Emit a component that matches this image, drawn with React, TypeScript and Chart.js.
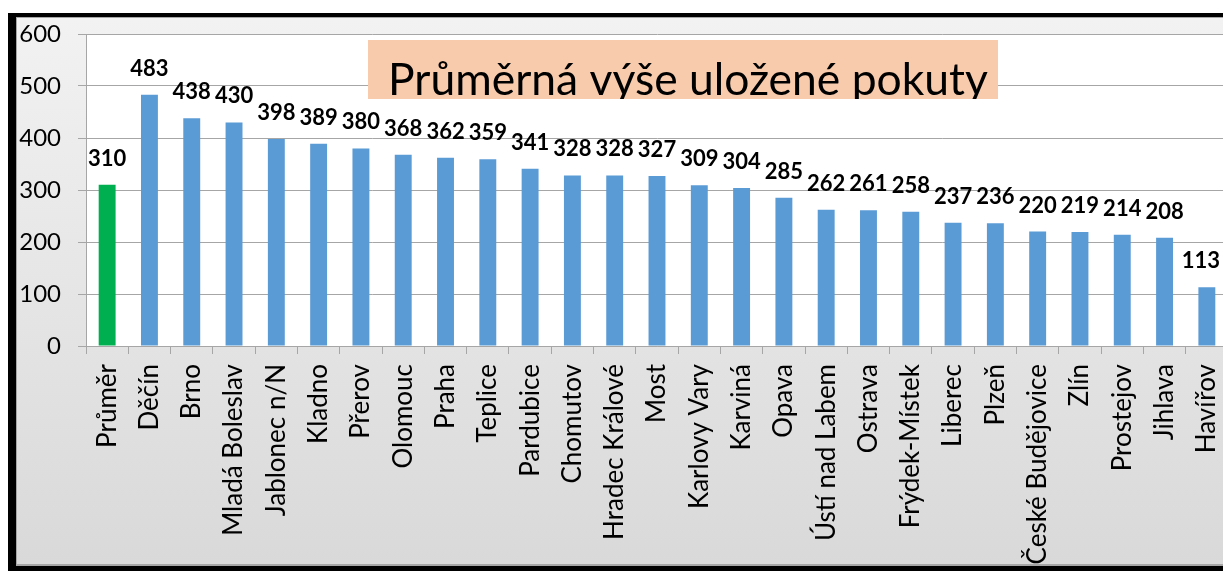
import React, { useEffect, useRef } from "react";
import { Chart, registerables } from "chart.js";

Chart.register(...registerables);

const categories = [
  "Průměr", "Děčín", "Brno", "Mladá Boleslav", "Jablonec n/N", "Kladno", "Přerov",
  "Olomouc", "Praha", "Teplice", "Pardubice", "Chomutov", "Hradec Králové", "Most",
  "Karlovy Vary", "Karviná", "Opava", "Ústí nad Labem", "Ostrava", "Frýdek-Místek",
  "Liberec", "Plzeň", "České Budějovice", "Zlín", "Prostejov", "Jihlava", "Havířov",
];
const values = [
  310, 483, 438, 430, 398, 389, 380, 368, 362, 359, 341, 328, 328, 327, 309, 304,
  285, 262, 261, 258, 237, 236, 220, 219, 214, 208, 113,
];
const yTicks = [0, 100, 200, 300, 400, 500, 600];
const titleText = "Průměrná výše uložené pokuty";

const FONT = "Lato, 'Open Sans', sans-serif";
const GRID = "#a6a6a6";

export default function App() {
  const ref = useRef<HTMLCanvasElement | null>(null);

  useEffect(() => {
    const canvas = ref.current!;
    const colors = categories.map((c, i) => (i === 0 ? "#00b050" : "#5b9bd5"));

    const bgPlugin = {
      id: "plotBg",
      beforeDraw(chart: any) {
        const { ctx, chartArea: a } = chart;
        ctx.save();
        ctx.fillStyle = "#ffffff";
        ctx.fillRect(a.left, a.top, a.right - a.left, a.bottom - a.top);
        ctx.restore();
      },
    };

    const labelPlugin = {
      id: "valueLabels",
      afterDatasetsDraw(chart: any) {
        const { ctx } = chart;
        const meta = chart.getDatasetMeta(0);
        ctx.save();
        ctx.font = `bold 22px ${FONT}`;
        ctx.fillStyle = "#000";
        ctx.textAlign = "center";
        ctx.textBaseline = "alphabetic";
        meta.data.forEach((bar: any, i: number) => {
          let x = bar.x;
          const txt = String(values[i]);
          const w = ctx.measureText(txt).width;
          if (x + w / 2 > chart.width - 12) x = chart.width - 12 - w / 2;
          ctx.fillText(txt, x, bar.y - 19);
        });
        ctx.restore();
      },
    };

    const titlePlugin = {
      id: "boxTitle",
      afterDraw(chart: any) {
        const { ctx } = chart;
        const bx = 351, by = 22, bw = 630, bh = 59;
        ctx.save();
        ctx.fillStyle = "#f8cbad";
        ctx.fillRect(bx, by, bw, bh);
        ctx.beginPath();
        ctx.rect(bx, by, bw, bh);
        ctx.clip();
        let size = 42;
        ctx.font = `${size}px ${FONT}`;
        const m = ctx.measureText(titleText).width;
        size = (42 * 600) / m;
        ctx.font = `${size}px ${FONT}`;
        ctx.fillStyle = "#000";
        ctx.textAlign = "left";
        ctx.textBaseline = "alphabetic";
        ctx.fillText(titleText, bx + 20, by + 55);
        ctx.restore();
      },
    };

    const chart = new Chart(canvas, {
      type: "bar",
      data: {
        labels: categories,
        datasets: [
          {
            data: values,
            backgroundColor: colors,
            borderWidth: 0,
            barPercentage: 0.8,
            categoryPercentage: 0.5,
          },
        ],
      },
      options: {
        responsive: false,
        animation: false,
        devicePixelRatio: 1,
        layout: { padding: { top: 16, right: 4, left: 0, bottom: 0 } },
        plugins: {
          legend: { display: false },
          tooltip: { enabled: false },
          title: { display: false },
        },
        scales: {
          x: {
            grid: {
              offset: true,
              drawOnChartArea: false,
              drawTicks: true,
              tickLength: 8,
              color: GRID,
            },
            border: { color: GRID },
            ticks: {
              autoSkip: false,
              minRotation: 90,
              maxRotation: 90,
              padding: 10,
              color: "#000",
              font: { family: FONT, size: 26 },
            },
            afterFit(scale: any) {
              scale.height = 218;
              scale.paddingLeft = 0;
              scale.paddingRight = 0;
            },
          },
          y: {
            min: yTicks[0],
            max: yTicks[yTicks.length - 1],
            afterBuildTicks(scale: any) {
              scale.ticks = yTicks.map((v) => ({ value: v }));
            },
            grid: { color: GRID, tickLength: 8 },
            border: { color: GRID },
            ticks: {
              padding: 17,
              color: "#000",
              font: { family: FONT, size: 24 },
            },
            afterFit(scale: any) {
              scale.width = 69;
              scale.paddingTop = 0;
              scale.paddingBottom = 0;
            },
          },
        },
      },
      plugins: [bgPlugin, labelPlugin, titlePlugin],
    });
    return () => chart.destroy();
  }, []);

  return (
    <div
      style={{
        position: "fixed",
        left: 8,
        top: 13,
        width: 1215,
        height: 558,
        boxSizing: "border-box",
        borderLeft: "8px solid #000",
        borderTop: "4px solid #000",
        borderBottom: "5px solid #000",
        overflow: "hidden",
      }}
    >
      <div
        style={{
          position: "relative",
          height: 546,
          borderLeft: "1px solid #a6a6a6",
          borderTop: "1px solid #a6a6a6",
          borderBottom: "2px solid #a6a6a6",
          background: "linear-gradient(#f2f2f2, #d9d9d9)",
          overflow: "hidden",
        }}
      >
        <canvas
          ref={ref}
          width={1215}
          height={546}
          style={{ display: "block", position: "absolute", left: 0, top: 0 }}
        />
      </div>
    </div>
  );
}
